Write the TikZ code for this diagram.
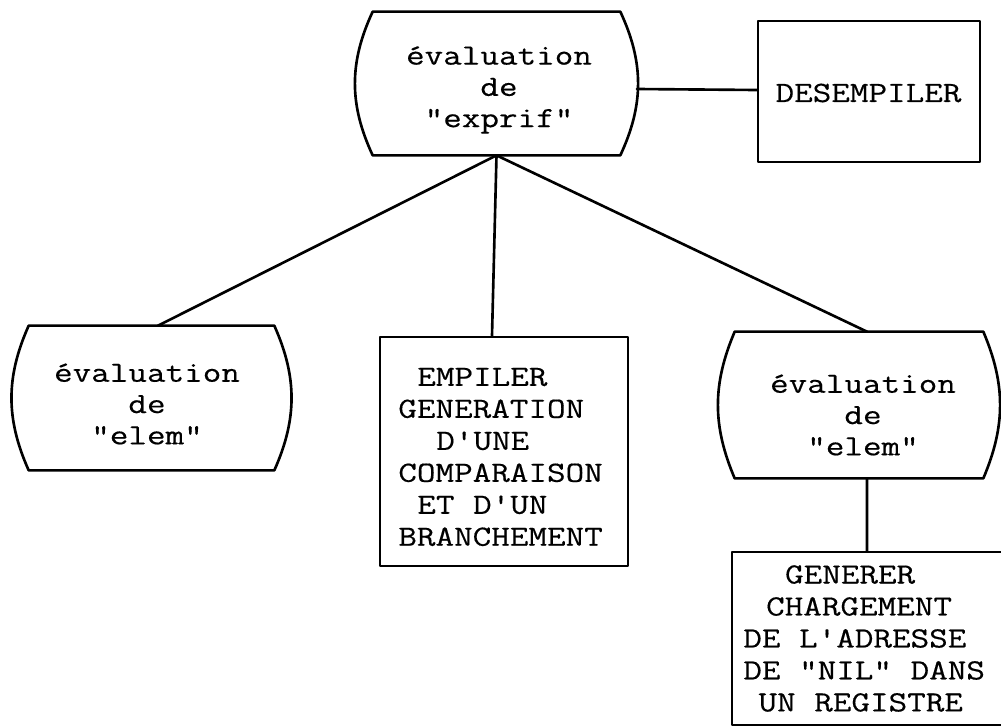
\documentclass[tikz,border=0pt]{standalone}
\usepackage{fontspec}
\newfontfamily\typew[FakeStretch=1.23, FakeBold=0.4]{Latin Modern Mono}
\newcommand\curvedoutline[2]{%
  \draw[stroke] (#1.north west) -- (#1.north east)
    to[bend left=#2] (#1.south east) -- (#1.south west)
    to[bend left=#2] (#1.north west) -- cycle;}
% one typewriter character cell
\newcommand\cell[1]{\hspace*{#1\dimexpr 10.8pt\relax}}
\begin{document}
\begin{tikzpicture}[x=0.02cm, y=-0.02cm,
  stroke/.style={line width=1.5pt, line join=round, line cap=round},
  evalbox/.style={rectangle, inner sep=0pt},
  plainbox/.style={rectangle, draw, stroke, inner sep=0pt},
  txt/.style={inner sep=0pt, align=center, font={\typew\fontsize{16.7}{17.8}\selectfont}},
  txtl/.style={inner sep=0pt, align=left, anchor=west, font={\typew\fontsize{16.7}{18.2}\selectfont}},
  link/.style={stroke}]
  % page
  \fill[white] (0,0) rectangle (1001,727);
  \useasboundingbox (0,0) rectangle (1001,727);

  % boxes
  \node[evalbox, minimum width=4.94cm, minimum height=2.86cm] (top) at (496.5,83.5) {};
  \node[plainbox, minimum width=4.44cm, minimum height=2.82cm] (des) at (869,91.5) {};
  \node[evalbox, minimum width=4.90cm, minimum height=2.88cm] (lelem) at (151.5,398) {};
  \node[plainbox, minimum width=4.96cm, minimum height=4.58cm] (mid) at (504,451.5) {};
  \node[evalbox, minimum width=4.96cm, minimum height=2.92cm] (relem) at (859,405) {};
  \node[plainbox, minimum width=5.48cm, minimum height=3.46cm] (bot) at (869,638.5) {};

  \curvedoutline{top}{25}
  \curvedoutline{lelem}{24}
  \curvedoutline{relem}{23}

  % texts
  \node[txt] (ttop) at (499,90) {évaluation\\de\\"exprif"};
  \node[txt] (tdes) at (868.5,93) {DESEMPILER};
  \node[txt] (tlelem) at (147,404) {évaluation\\de\\"elem"};
  \node[txt] (trelem) at (863,415) {évaluation\\de\\"elem"};
  \node[txtl] (tmid) at (398,457) {\cell{1}EMPILER\\GENERATION\\\cell{2}D'UNE\\COMPARAISON\\\cell{1}ET D'UN\\BRANCHEMENT};
  \node[txtl] (tbot) at (743,638.5) {\cell{2.2}GENERER\\\cell{1.2}CHARGEMENT\\DE L'ADRESSE\\DE "NIL" DANS\\\cell{0.8}UN REGISTRE};

  % connectors
  \draw[link] ([xshift=0.33cm,yshift=-0.11cm]top.east) -- ([yshift=0.03cm]des.west);
  \draw[link] (top.south) -- ([xshift=0.13cm]lelem.north);
  \draw[link] (top.south) -- ([xshift=-0.24cm]mid.north);
  \draw[link] (top.south) -- ([xshift=0.16cm]relem.north);
  \draw[link] ([xshift=0.16cm]relem.south) -- ([xshift=-0.04cm]bot.north);
\end{tikzpicture}
\end{document}
